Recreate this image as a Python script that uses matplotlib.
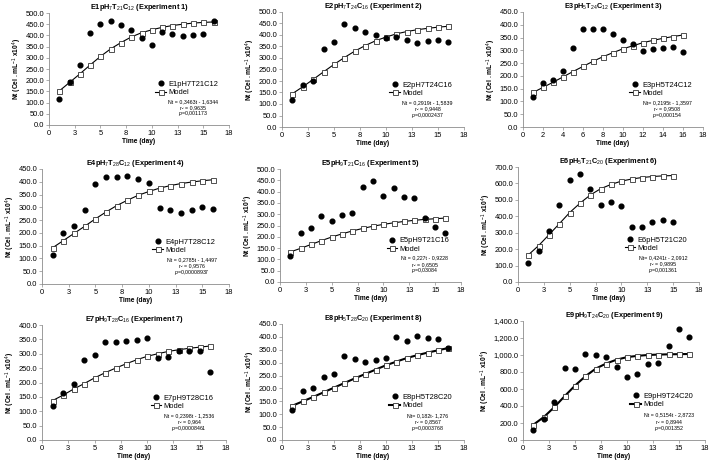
import numpy as np
import matplotlib
matplotlib.use("Agg")
import matplotlib.pyplot as plt
from matplotlib.ticker import FuncFormatter
from matplotlib.lines import Line2D

plt.rcParams["font.family"] = ["Liberation Sans", "DejaVu Sans"]
plt.rcParams["mathtext.fontset"] = "custom"
plt.rcParams["mathtext.rm"] = "Liberation Sans"
plt.rcParams["mathtext.it"] = "Liberation Sans:italic"
plt.rcParams["mathtext.bf"] = "Liberation Sans:bold"

# observed cell density and model curve per experiment (days 1..16)
days16 = list(range(1, 17))
days15 = list(range(1, 16))

e1_obs = [118, 190, 270, 410, 450, 465, 445, 425, 390, 355, 415, 407, 398, 402, 405, 465]
e1_mod = [152, 190, 228, 268, 306, 340, 368, 393, 412, 425, 436, 444, 450, 455, 458, 460]
e2_obs = [118, 183, 199, 339, 369, 447, 432, 415, 401, 386, 392, 379, 366, 372, 378, 369]
e2_mod = [145, 175, 207, 240, 272, 302, 330, 354, 375, 391, 405, 415, 423, 429, 434, 438]
e3_obs = [117, 172, 185, 220, 310, 384, 384, 385, 364, 341, 324, 297, 307, 310, 313, 295]
e3_mod = [135, 155, 175, 196, 217, 237, 257, 275, 291, 306, 318, 330, 339, 347, 354, 360]
e4_obs = [115, 200, 228, 290, 390, 420, 420, 422, 410, 396, 296, 288, 277, 290, 302, 295]
e4_mod = [142, 170, 198, 226, 255, 282, 307, 328, 347, 362, 375, 385, 393, 399, 404, 408]
e5_obs = [117, 218, 240, 290, 270, 295, 307, 420, 449, 380, 414, 378, 372, 283, 244, 215]
e5_mod = [133, 149, 166, 183, 199, 213, 226, 237, 247, 255, 262, 268, 273, 277, 280, 283]
e6_obs = [115, 190, 310, 470, 620, 655, 565, 470, 490, 460, 335, 335, 365, 375, 365]
e6_mod = [165, 222, 288, 355, 423, 480, 530, 568, 594, 614, 627, 636, 642, 646, 648]
e7_obs = [117, 164, 196, 280, 297, 341, 341, 343, 349, 355, 286, 289, 309, 309, 309, 237]
e7_mod = [137, 156, 177, 196, 216, 234, 250, 265, 279, 291, 300, 308, 314, 319, 323, 327]
e8_obs = [117, 190, 200, 243, 257, 325, 315, 303, 311, 318, 400, 385, 403, 397, 391, 356]
e8_mod = [133, 150, 167, 185, 203, 221, 239, 256, 273, 290, 304, 318, 329, 339, 348, 357]
e9_obs = [115, 250, 445, 850, 830, 1015, 995, 975, 855, 740, 775, 895, 905, 1110, 1310, 1215]
e9_mod = [180, 270, 385, 515, 640, 750, 840, 900, 945, 975, 990, 1000, 1005, 1008, 1010, 1012]

titles = [
    r"E1pH$_7$T$_{21}$C$_{12}$ (Experiment 1)",
    r"E2pH$_7$T$_{24}$C$_{16}$ (Experiment 2)",
    r"E3pH$_5$T$_{24}$C$_{12}$ (Experiment 3)",
    r"E4pH$_7$T$_{28}$C$_{12}$ (Experiment 4)",
    r"E5pH$_9$T$_{21}$C$_{16}$ (Experiment 5)",
    r"E6pH$_5$T$_{21}$C$_{20}$ (Experiment 6)",
    r"E7pH$_9$T$_{28}$C$_{16}$ (Experiment 7)",
    r"E8pH$_5$T$_{28}$C$_{20}$ (Experiment 8)",
    r"E9pH$_9$T$_{24}$C$_{20}$ (Experiment 9)",
]
series_names = ["E1pH7T21C12", "E2pH7T24C16", "E3pH5T24C12", "E4pH7T28C12", "E5pH9T21C16",
                "E6pH5T21C20", "E7pH9T28C16", "E8pH5T28C20", "E9pH9T24C20"]
equations = [
    ("Nt = 0,3463t - 1,6344", "0,9635", "0,001173"),
    ("Nt = 0,2919t - 1,5839", "0,9448", "0,0002437"),
    ("Nt= 0,2195t - 1,3597", "0,9508", "0,000154"),
    ("Nt = 0,2785t - 1,4497", "0,9576", "0,00008937"),
    ("Nt = 0,227t - 0,9228", "0,6505", "0,03084"),
    ("Nt= 0,4241t - 2,0912", "0,9895", "0,001361"),
    ("Nt = 0,2398t - 1,2536", "0,964", "0,00008461"),
    ("Nt= 0,182t- 1,276", "0,8567", "0,0003768"),
    ("Nt = 0,5154t - 2,8723", "0,8944", "0,001352"),
]
y_max = [500, 500, 450, 450, 500, 700, 400, 450, 1400]
y_step = [50, 50, 50, 50, 50, 100, 50, 50, 200]

observed = [e1_obs, e2_obs, e3_obs, e4_obs, e5_obs, e6_obs, e7_obs, e8_obs, e9_obs]
modelled = [e1_mod, e2_mod, e3_mod, e4_mod, e5_mod, e6_mod, e7_mod, e8_mod, e9_mod]

# axes rectangles in pixels (left, right, top, bottom)
W, H = 712, 463
boxes = [
    (49, 229, 13, 125), (282, 464, 12, 127), (523, 703, 12, 127),
    (42, 229, 169, 284), (280, 461, 169, 282), (518, 699, 167, 282),
    (42, 226, 325, 440), (282, 464, 324, 440), (523, 705, 321, 440),
]

fig = plt.figure(figsize=(W / 100, H / 100), dpi=100)
grey = "#8c8c8c"

for i in range(9):
    l, r, t, b = boxes[i]
    ax = fig.add_axes([l / W, 1 - b / H, (r - l) / W, (b - t) / H])
    obs = observed[i]
    mod = modelled[i]
    x = days16 if len(obs) == 16 else days15
    lw = 1.5 if i >= 7 else 0.8
    ax.plot(x, mod, "-", color="black", lw=lw, marker="s", markersize=3.6,
            markerfacecolor="white", markeredgecolor="#333333", markeredgewidth=0.6, zorder=2)
    ax.plot(x, obs, "o", color="black", markersize=3.4, zorder=3)

    ax.set_ylim(0, y_max[i])
    ax.set_yticks(np.arange(0, y_max[i] + 1, y_step[i]))
    ax.yaxis.set_major_formatter(FuncFormatter(lambda v, p: f"{v:,.1f}"))
    if i == 2:
        ax.set_xlim(0, 18)
        ax.set_xticks(np.arange(0, 19, 2))
    else:
        ax.set_xlim(0, 17.5)
        xt = np.arange(0, 17.6, 2.5)
        ax.set_xticks(xt)
        ax.set_xticklabels([str(int(np.floor(v + 0.5))) for v in xt])

    for s in ["top", "right"]:
        ax.spines[s].set_visible(False)
    for s in ["left", "bottom"]:
        ax.spines[s].set_color(grey)
        ax.spines[s].set_linewidth(0.6)
    ax.tick_params(labelsize=5.4, length=2, width=0.5, color=grey, pad=1.5)

    ax.set_title(titles[i], fontsize=5.3, fontweight="bold", pad=0.5)
    ax.set_xlabel("Time (day)", fontsize=4.8, fontweight="bold", labelpad=1)
    ax.set_ylabel(r"Nt (Cel . mL$^{-1}$ x10$^{4}$)", fontsize=4.8, fontweight="bold", labelpad=1)

    handles = [
        Line2D([], [], ls="none", marker="o", color="black", markersize=3.4),
        Line2D([], [], color="black", lw=lw, marker="s", markersize=3.6,
               markerfacecolor="white", markeredgecolor="#333333", markeredgewidth=0.6),
    ]
    ax.legend(handles, [series_names[i], "Model"], loc="upper left",
              bbox_to_anchor=(0.57, 0.43), frameon=False, fontsize=5.4,
              handlelength=1.4, handletextpad=0.3, labelspacing=0.15, borderpad=0)
    eq, r2, pv = equations[i]
    ax.text(0.80, 0.21, eq, transform=ax.transAxes, ha="center", va="center", fontsize=3.8)
    ax.text(0.80, 0.155, f"r² = {r2}", transform=ax.transAxes, ha="center", va="center", fontsize=3.8)
    ax.text(0.80, 0.10, r"$\it{p}$" + f"={pv}", transform=ax.transAxes, ha="center", va="center", fontsize=3.8)

fig.savefig("out.png", dpi=100)
